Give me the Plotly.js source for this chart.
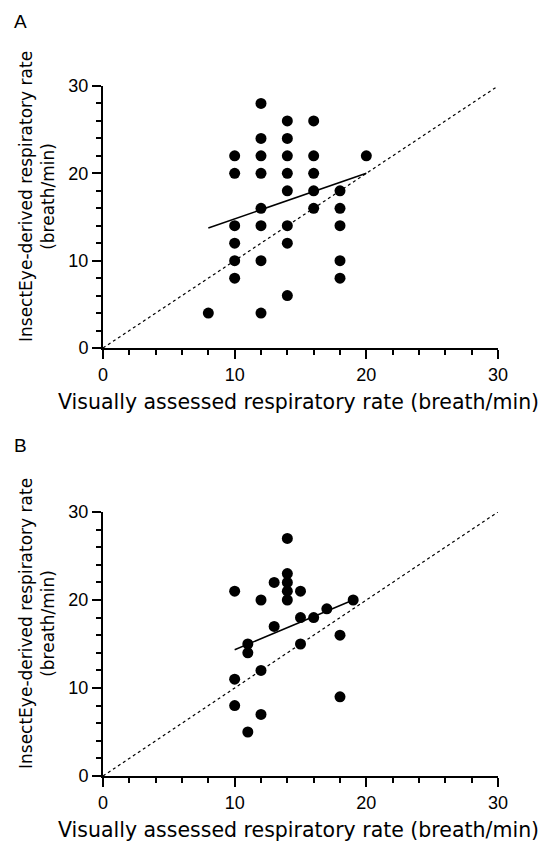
<!DOCTYPE html>
<html><head><meta charset="utf-8">
<script src="https://cdn.plot.ly/plotly-3.0.1.min.js"></script>
<style>html,body{margin:0;padding:0;background:#fff}#pa{width:550px;height:424px}#pb{width:550px;height:425px}</style>
</head><body><div id="pa"></div><div id="pb"></div>
<script>
// Panel A data
const aVisual = [8, 10,10,10,10,10,10, 12,12,12,12,12,12,12,12, 14,14,14,14,14,14,14,14, 16,16,16,16,16, 18,18,18,18,18, 20];
const aInsect = [4, 22,20,14,12,10,8, 28,24,22,20,16,14,10,4, 26,24,22,20,18,14,12,6, 26,22,20,18,16, 18,16,14,10,8, 22];
const aFitX = [8, 20];
const aFitY = [13.75, 20.0];
// Panel B data
const bVisual = [10,10,10, 11,11,11, 12,12,12, 13,13, 14,14,14,14,14, 15,15,15, 16, 17, 18,18, 19];
const bInsect = [21,11,8, 15,14,5, 20,12,7, 22,17, 27,23,22,21,20, 21,18,15, 18, 19, 16,9, 20];
const bFitX = [10, 19];
const bFitY = [14.35, 20.0];
const identityX = [0, 30];
const identityY = [0, 30];
const panelLabels = ["A", "B"];
const xTitle = "Visually assessed respiratory rate (breath/min)";
const yTitle = "InsectEye-derived respiratory rate<br>(breath/min)";

function axis(domain, anchor) {
  return {
    domain: domain, anchor: anchor, range: [0, 30], dtick: 10,
    showgrid: false, zeroline: false, showline: true, linecolor: 'black', linewidth: 2,
    ticks: 'outside', ticklen: 9, tickwidth: 2, tickcolor: 'black',
    minor: {dtick: 2, ticks: 'outside', ticklen: 5, tickwidth: 2, tickcolor: 'black'},
    tickfont: {family: 'Liberation Sans, Arial, sans-serif', size: 18, color: 'black'}
  };
}
function lineShapes(fx, fy) {
  return [
    {type: 'line', xref: 'x', yref: 'y', x0: identityX[0], y0: identityY[0], x1: identityX[1], y1: identityY[1],
     line: {color: 'black', width: 1.2, dash: 'dot'}, layer: 'below'},
    {type: 'line', xref: 'x', yref: 'y', x0: fx[0], y0: fy[0], x1: fx[1], y1: fy[1],
     line: {color: 'black', width: 1.5}, layer: 'below'}
  ];
}
const W = 550;
function drawPanel(id, H, top, label, xs, ys, fx, fy, axisBot, axisTop) {
  const px = v => v / W, py = v => 1 - (v - top) / H;
  const layout = {
    width: W, height: H, margin: {l: 0, r: 0, t: 0, b: 0}, showlegend: false,
    xaxis: axis([px(103), px(498)], 'y'),
    yaxis: axis([py(axisBot), py(axisTop)], 'x'),
    shapes: lineShapes(fx, fy),
    annotations: [
      {text: label, xref: 'paper', yref: 'paper', x: px(12), y: py(top + 9), showarrow: false,
       font: {family: 'Liberation Sans', size: 19, color: 'black'}},
      {text: xTitle, xref: 'paper', yref: 'paper', x: px(299), y: py(axisBot + 68), showarrow: false,
       font: {family: 'DejaVu Sans', size: 20.5, color: 'black'}},
      {text: yTitle, xref: 'paper', yref: 'paper', x: px(14), y: py((axisBot + axisTop) / 2 - 20), showarrow: false, textangle: -90,
       font: {family: 'DejaVu Sans', size: 17, color: 'black'}}
    ]
  };
  Plotly.newPlot(id, [{x: xs, y: ys, mode: 'markers', marker: {color: 'black', size: 11}}], layout, {displayModeBar: false});
}
drawPanel('pa', 424, 0, panelLabels[0], aVisual, aInsect, aFitX, aFitY, 348, 86);
drawPanel('pb', 425, 424, panelLabels[1], bVisual, bInsect, bFitX, bFitY, 776, 512);
</script></body></html>
